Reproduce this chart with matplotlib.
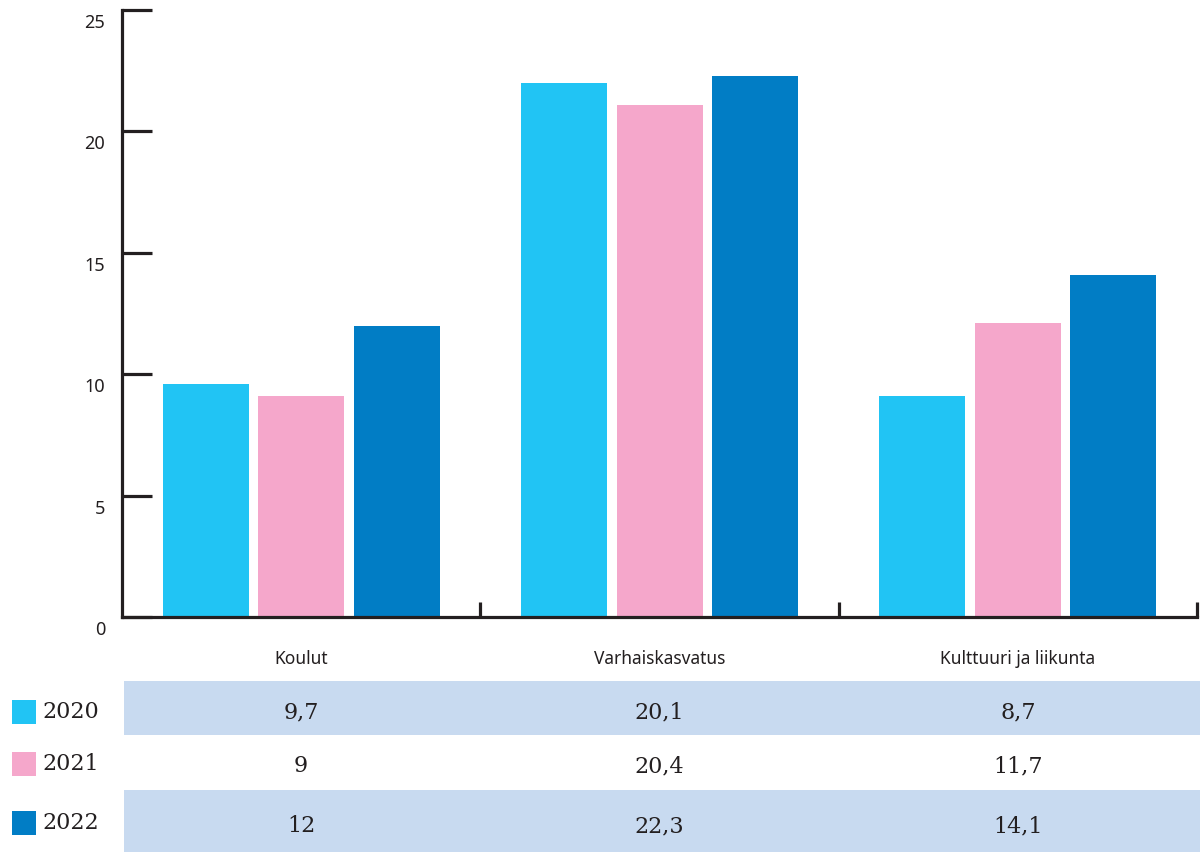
import matplotlib
matplotlib.use("Agg")
import matplotlib.pyplot as plt
import matplotlib.transforms as mtransforms
from matplotlib.patches import Rectangle
import numpy as np

# ---- data ----
categories = ["Koulut", "Varhaiskasvatus", "Kulttuuri ja liikunta"]
years = ["2020", "2021", "2022"]
values_2020 = [9.6, 22.0, 9.1]
values_2021 = [9.1, 21.1, 12.1]
values_2022 = [12.0, 22.3, 14.1]
table_2020 = ["9,7", "20,1", "8,7"]
table_2021 = ["9", "20,4", "11,7"]
table_2022 = ["12", "22,3", "14,1"]
yticks = [0, 5, 10, 15, 20, 25]

series = [values_2020, values_2021, values_2022]
table_rows = [table_2020, table_2021, table_2022]
colors = ["#21c4f4", "#f5a7cb", "#017dc5"]
dark = "#231f20"
shade = "#c8daf0"
SANS = ["Noto Sans", "DejaVu Sans"]
SERIF = ["DejaVu Serif"]

W, H = 1200, 852
fig = plt.figure(figsize=(W / 100, H / 100), dpi=100)

def fy(py):  # pixel from top -> figure fraction
    return (H - py) / H

ax_left, ax_right, ax_top, ax_bottom = 122, 1197, 10, 617
ax = fig.add_axes([ax_left / W, fy(ax_bottom), (ax_right - ax_left) / W, (ax_bottom - ax_top) / H])

x = np.arange(len(categories))
pitch = 0.2665
width = 0.24
for i, vals in enumerate(series):
    ax.bar(x + (i - 1) * pitch, vals, width=width, color=colors[i], zorder=1, linewidth=0)

ax.set_xlim(-0.5, len(categories) - 0.5)
ax.set_ylim(0, 25)

for s in ["top", "right"]:
    ax.spines[s].set_visible(False)
for s in ["left", "bottom"]:
    ax.spines[s].set_color(dark)
    ax.spines[s].set_linewidth(2.3)
    ax.spines[s].set_zorder(3)

ax.set_yticks(yticks)
ax.set_yticklabels([])
ax.tick_params(axis="y", direction="in", length=21.5, width=2.3, color=dark)
ax.set_xticks([0.5, 1.5, 2.5])
ax.set_xticklabels([])
ax.tick_params(axis="x", direction="in", length=11, width=2.3, color=dark)

# y tick labels (offset below tick)
ytrans = mtransforms.blended_transform_factory(fig.transFigure, ax.transData)
ytrans = ytrans + mtransforms.ScaledTranslation(0, -13 / 100, fig.dpi_scale_trans)
for t in yticks:
    fig.text(105 / W, t, str(t), transform=ytrans, ha="right", va="center",
             fontsize=13, color=dark, family=SANS)

# category labels
xtrans = mtransforms.blended_transform_factory(ax.transData, fig.transFigure)
for i, c in enumerate(categories):
    fig.text(i, fy(659), c, transform=xtrans, ha="center", va="center",
             fontsize=12.5, color=dark, family=SANS)

# table
row_bounds = [(681, 735), (735, 790), (790, 852)]
row_text_y = [712, 766, 826]
for r, (y0, y1) in enumerate(row_bounds):
    if r != 1:
        fig.patches.append(Rectangle((124 / W, fy(y1)), (W - 124) / W, (y1 - y0) / H,
                                     transform=fig.transFigure, facecolor=shade,
                                     edgecolor="none", zorder=0))
    for i, txt in enumerate(table_rows[r]):
        fig.text(i, fy(row_text_y[r]), txt, transform=xtrans, ha="center", va="center",
                 fontsize=16, color=dark, family=SERIF)
    # legend
    sq_top = [700, 752, 811][r]
    fig.patches.append(Rectangle((12 / W, fy(sq_top + 24)), 24 / W, 24 / H,
                                 transform=fig.transFigure, facecolor=colors[r],
                                 edgecolor="none"))
    fig.text(42 / W, fy(sq_top + 12), years[r], ha="left", va="center",
             fontsize=16, color=dark, family=SERIF)

fig.savefig("out.png", dpi=100)
